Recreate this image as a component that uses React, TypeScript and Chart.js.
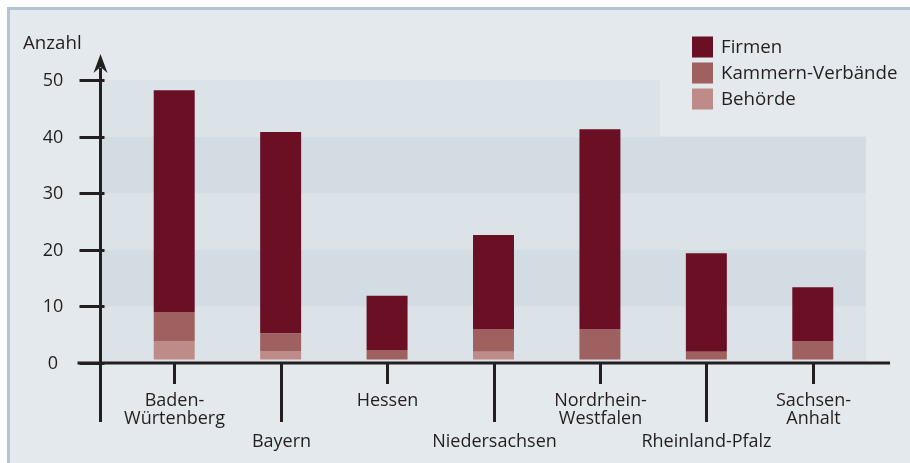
import React, { useEffect, useRef } from 'react';
import { Chart, registerables } from 'chart.js';

Chart.register(...registerables);

// ---- data ----
const categories: string[][] = [
  ['Baden-', 'Würtenberg'],
  ['Bayern'],
  ['Hessen'],
  ['Niedersachsen'],
  ['Nordrhein-', 'Westfalen'],
  ['Rheinland-Pfalz'],
  ['Sachsen-', 'Anhalt'],
];
const BASELINE = 0.6; // bars start slightly above zero in the original
const behoerde = [3.3, 1.5, 0, 1.4, 0, 0, 0];
const kammern = [5.1, 3.1, 1.7, 4.0, 5.4, 1.4, 3.3];
const firmen = [39.2, 35.6, 9.6, 16.6, 35.3, 17.4, 9.5];
const yTicks = [0, 10, 20, 30, 40, 50];
const yTitle = 'Anzahl';
const seriesNames = ['Firmen', 'Kammern-Verbände', 'Behörde'];

// ---- styles ----
const C_FIRMEN = '#6a0f24';
const C_KAMMERN = '#9e6160';
const C_BEHOERDE = '#bf8b89';
const BG = '#e3e9ed';
const FRAME = '#b3c3d6';
const BAND_LIGHT = '#dbe3e9';
const BAND_DARK = '#d2dce2';
const INK = '#231f20';
const FONT = '18px "Open Sans", sans-serif';
const FONT_BIG = '18.7px "Open Sans", sans-serif';

const behRanges = behoerde.map((v) => (v > 0 ? [BASELINE, BASELINE + v] : null));
const kamRanges = kammern.map((v, i) => {
  const s = BASELINE + behoerde[i];
  return [s, s + v];
});
const firRanges = firmen.map((v, i) => {
  const s = BASELINE + behoerde[i] + kammern[i];
  return [s, s + v];
});

const decor = {
  id: 'decor',
  beforeDraw(chart: any) {
    const ctx = chart.ctx;
    const { width, height } = chart;
    const y = chart.scales.y;
    const area = chart.chartArea;
    const axisX = area.left - 20.5;
    ctx.save();
    ctx.fillStyle = '#ffffff';
    ctx.fillRect(0, 0, width, height);
    ctx.fillStyle = FRAME;
    ctx.fillRect(7, 7, width - 7, height - 7);
    ctx.fillStyle = BG;
    ctx.fillRect(10, 10, width - 10, height - 10);
    for (let i = 0; i < yTicks.length - 1; i++) {
      const lo = y.getPixelForValue(yTicks[i]);
      const hi = y.getPixelForValue(yTicks[i + 1]);
      const right = i === yTicks.length - 2 ? 660 : area.right;
      ctx.fillStyle = i % 2 === 0 ? BAND_LIGHT : BAND_DARK;
      ctx.fillRect(axisX + 1.5, hi, right - axisX - 1.5, lo - hi);
    }
    ctx.restore();
  },
  afterDatasetsDraw(chart: any) {
    const ctx = chart.ctx;
    const x = chart.scales.x;
    const y = chart.scales.y;
    const area = chart.chartArea;
    const axisX = area.left - 20.5;
    const zeroY = y.getPixelForValue(0);
    const longEnd = zeroY + 59;
    const shortEnd = zeroY + 21;
    ctx.save();
    ctx.strokeStyle = INK;
    ctx.fillStyle = INK;
    ctx.lineWidth = 3;
    ctx.lineCap = 'butt';
    // y axis
    ctx.beginPath();
    ctx.moveTo(axisX, 68);
    ctx.lineTo(axisX, longEnd);
    ctx.stroke();
    // arrow
    ctx.beginPath();
    ctx.moveTo(axisX, 54);
    ctx.lineTo(axisX + 7, 73);
    ctx.lineTo(axisX, 67);
    ctx.lineTo(axisX - 7, 73);
    ctx.closePath();
    ctx.fill();
    // x axis
    ctx.beginPath();
    ctx.moveTo(axisX - 23, zeroY);
    ctx.lineTo(890, zeroY);
    ctx.stroke();
    // y ticks + labels
    ctx.font = FONT;
    ctx.textAlign = 'center';
    ctx.textBaseline = 'middle';
    yTicks.forEach((t) => {
      const py = Math.round(y.getPixelForValue(t)) + 0.5;
      ctx.beginPath();
      ctx.moveTo(axisX - 21, py);
      ctx.lineTo(axisX + 4, py);
      ctx.stroke();
      ctx.fillText(String(t), 53, py);
    });
    // x ticks + labels
    categories.forEach((lines, i) => {
      const px = Math.round(x.getPixelForValue(i)) + 0.5;
      const down = i % 2 === 1;
      ctx.beginPath();
      ctx.moveTo(px, zeroY);
      ctx.lineTo(px, down ? longEnd : shortEnd);
      ctx.stroke();
      const startY = down ? zeroY + 79 : zeroY + 38;
      lines.forEach((l, k) => ctx.fillText(l, px, startY + k * 18));
    });
    // title
    ctx.font = FONT_BIG;
    ctx.textAlign = 'left';
    ctx.fillText(yTitle, 23, 44);
    // legend
    const colors = [C_FIRMEN, C_KAMMERN, C_BEHOERDE];
    seriesNames.forEach((n, i) => {
      const by = 36.5 + i * 26;
      ctx.fillStyle = colors[i];
      ctx.fillRect(692, by, 21, 21);
      ctx.fillStyle = INK;
      ctx.fillText(n, 721, by + 11);
    });
    ctx.restore();
  },
};

export default function App() {
  const ref = useRef<HTMLCanvasElement | null>(null);
  useEffect(() => {
    if (!ref.current) return;
    const common = { barPercentage: 0.385, categoryPercentage: 1, grouped: false, borderWidth: 0 };
    const chart = new Chart(ref.current, {
      type: 'bar',
      data: {
        labels: categories.map((c) => c.join(' ')),
        datasets: [
          { label: seriesNames[2], data: behRanges as any, backgroundColor: C_BEHOERDE, ...common },
          { label: seriesNames[1], data: kamRanges as any, backgroundColor: C_KAMMERN, ...common },
          { label: seriesNames[0], data: firRanges as any, backgroundColor: C_FIRMEN, ...common },
        ],
      },
      options: {
        animation: false,
        responsive: true,
        maintainAspectRatio: false,
        layout: { padding: { left: 121, top: 80, right: 44, bottom: 100 } },
        plugins: { legend: { display: false }, tooltip: { enabled: false } },
        scales: {
          x: { display: false },
          y: { display: false, min: 0, max: 50 },
        },
      },
      plugins: [decor],
    });
    return () => chart.destroy();
  }, []);
  return (
    <div style={{ position: 'fixed', left: 0, top: 0, width: 910, height: 463 }}>
      <canvas ref={ref} />
    </div>
  );
}
